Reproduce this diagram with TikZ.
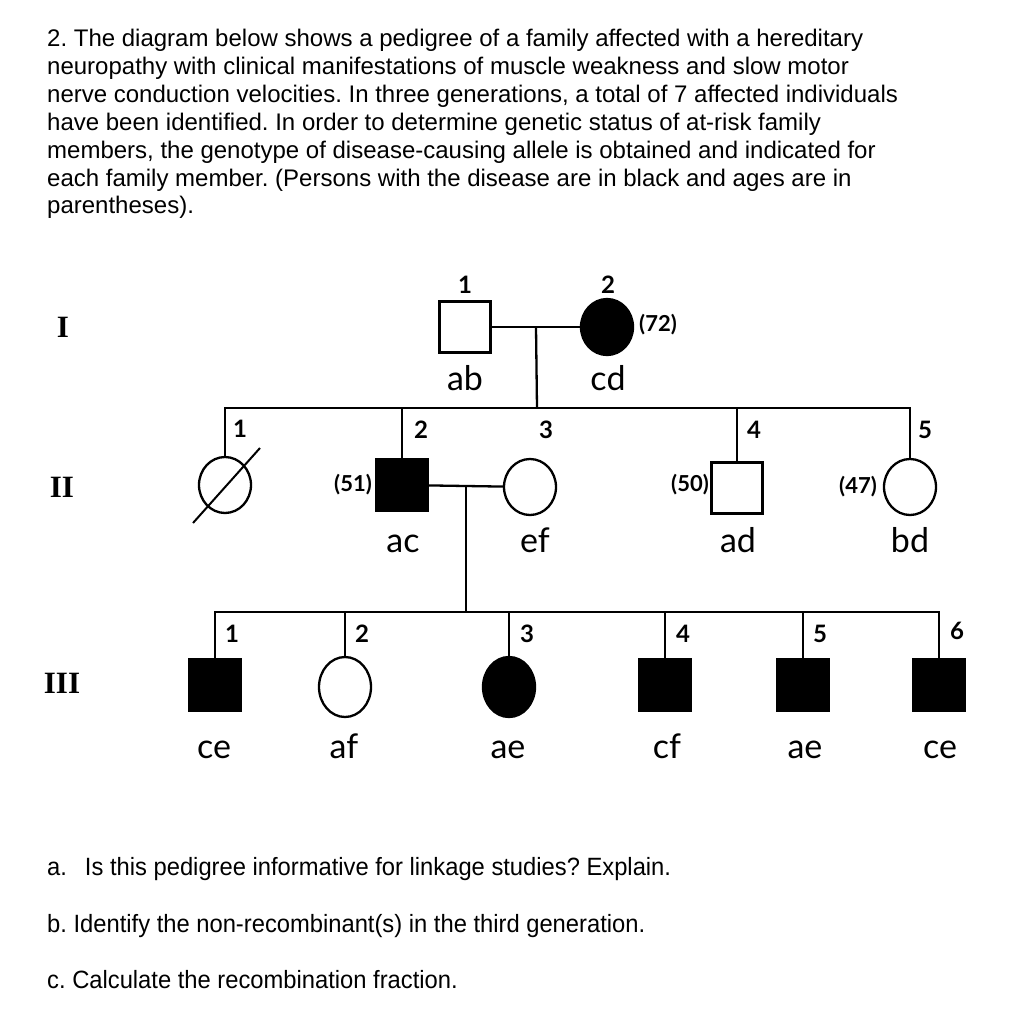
\documentclass[tikz,border=0pt]{standalone}
\usepackage{fontspec}
\setmainfont{Liberation Sans}
\newfontfamily\pedfont{Lato}
\newfontfamily\romfont{Liberation Serif}
\newfontfamily\narrowfont[FakeStretch=0.95]{Liberation Sans}
\usetikzlibrary{positioning,shapes.geometric,calc}
\frenchspacing

\tikzset{
  every node/.style={inner sep=0pt},
  % --- symbols
  ln/.style     = {line width=2.3pt, draw=black},
  male/.style   = {rectangle, draw, line width=2.3pt, minimum size=51pt, fill=white},
  female/.style = {ellipse, draw, line width=2.3pt, minimum width=52pt, minimum height=56pt, fill=white},
  aff/.style    = {fill=black},
  % --- texts
  num/.style    = {font=\pedfont\bfseries\fontsize{24}{24}\selectfont},
  age/.style    = {font=\pedfont\bfseries\fontsize{22}{22}\selectfont},
  geno/.style   = {font=\pedfont\fontsize{34}{34}\selectfont, anchor=base},
  gen/.style    = {font=\romfont\bfseries\fontsize{31}{31}\selectfont},
  body/.style   = {font=\fontsize{24}{27.9}\selectfont, align=left, anchor=north west},
  ask/.style    = {font=\narrowfont\fontsize{25}{25}\selectfont, anchor=base west},
}

\begin{document}
\begin{tikzpicture}[x=1pt, y=-1pt]
  \useasboundingbox (0,0) rectangle (1010,1020);

  % question text
  \node[body] (intro) at (47,29) {2. The diagram below shows a pedigree of a family affected with a hereditary\\
    neuropathy with clinical manifestations of muscle weakness and slow motor\\
    nerve conduction velocities. In three generations, a total of 7 affected individuals\\
    have been identified. In order to determine genetic status of at-risk family\\
    members, the genotype of disease-causing allele is obtained and indicated for\\
    each family member. (Persons with the disease are in black and ages are in\\
    parentheses).};

  % generation labels
  \node[gen] (gI)   at (63,327) {I};
  \node[gen] (gII)  at (62,487) {II};
  \node[gen] (gIII) at (62,683) {III};

  % generation I
  \node[male]        (p11) at (465,327) {};
  \node[female, aff] (p12) at (607,327) {};
  % generation II
  \node[female]      (p21) at (225,485) {};
  \node[male, aff]   (p22) at (402,485) {};
  \node[female]      (p23) at (530,487) {};
  \node[male]        (p24) at (737,488) {};
  \node[female]      (p25) at (910,487) {};
  % generation III
  \node[male, aff]   (p31) at (215,685) {};
  \node[female, minimum height=60pt] (p32) at (345,687) {};
  \node[female, aff, minimum height=60pt] (p33) at (509,687) {};
  \node[male, aff]   (p34) at (665,685) {};
  \node[male, aff]   (p35) at (803,685) {};
  \node[male, aff]   (p36) at (939,685) {};

  \coordinate (m1) at ($(p11)!0.5!(p12)$);
  \coordinate (m2) at ($(p22)!0.5!(p23)$);
  \coordinate (s2) at (537,408);
  \coordinate (s3) at (466,612);

  % lines
  \draw[ln] (p11) -- (p12);
  \draw[ln] (m1) -- (s2);
  \draw[ln] (p21.north) |- (s2) -| (p25.north);
  \foreach \p in {p22,p24} \draw[ln] (\p.north) -- (\p.north |- s2);
  \draw[ln] (p22) -- (p23);
  \draw[ln] (m2) -- (s3);
  \draw[ln] (p31.north) |- (s3) -| (p36.north);
  \foreach \p in {p32,p33,p34,p35} \draw[ln] (\p.north) -- (\p.north |- s3);
  \draw[ln, line width=2pt] ($(p21)+(-32,38)$) -- ($(p21)+(35,-37)$);

  % numbers
  \node[num] (n11) at (465,285) {1};
  \node[num] (n12) at (608,285) {2};
  \node[num] (n21) at (240,429) {1};
  \node[num] (n22) at (421,430) {2};
  \node[num] (n23) at (546,430) {3};
  \node[num] (n24) at (754,430) {4};
  \node[num] (n25) at (925,430) {5};
  \node[num] (n31) at (232,634) {1};
  \node[num] (n32) at (362,634) {2};
  \node[num] (n33) at (527,634) {3};
  \node[num] (n34) at (683,634) {4};
  \node[num] (n35) at (820,634) {5};
  \node[num] (n36) at (957,631) {6};

  % ages
  \node[age, anchor=west] (a12) at (639,325) {(72)};
  \node[age, anchor=east] (a22) at (372,485) {(51)};
  \node[age, anchor=east] (a24) at (709,485) {(50)};
  \node[age, anchor=east] (a25) at (877,487) {(47)};

  % genotypes
  \node[geno] (g11) at (465,390) {ab};
  \node[geno] (g12) at (608,390) {cd};
  \node[geno] (g22) at (403,552) {ac};
  \node[geno] (g23) at (535,552) {ef};
  \node[geno] (g24) at (738,552) {ad};
  \node[geno] (g25) at (910,552) {bd};
  \node[geno] (g31) at (214,758) {ce};
  \node[geno] (g32) at (344,758) {af};
  \node[geno] (g33) at (508,758) {ae};
  \node[geno] (g34) at (667,758) {cf};
  \node[geno] (g35) at (805,758) {ae};
  \node[geno] (g36) at (940,758) {ce};

  % questions
  \node[ask] (qa) at (47,875) {a.\hspace{18pt}Is this pedigree informative for linkage studies? Explain.};
  \node[ask] (qb) at (47,932) {b. Identify the non-recombinant(s) in the third generation.};
  \node[ask] (qc) at (47,988) {c. Calculate the recombination fraction.};
\end{tikzpicture}
\end{document}
